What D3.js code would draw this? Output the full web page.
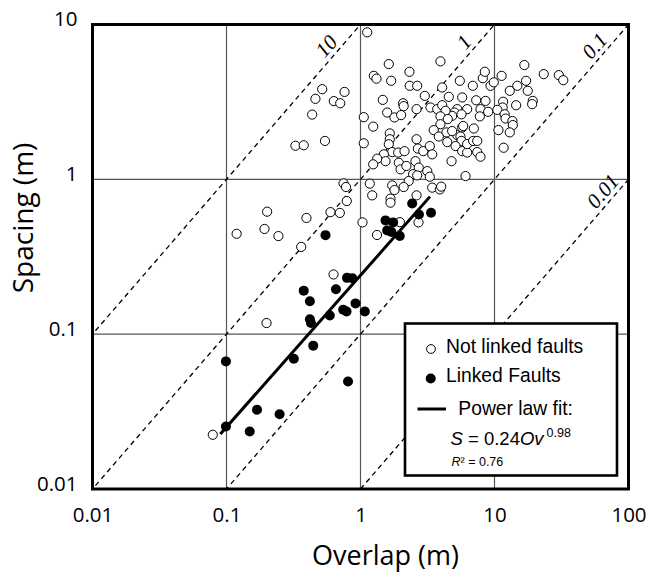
<!DOCTYPE html>
<html>
<head>
<meta charset="utf-8">
<script src="https://cdn.jsdelivr.net/npm/d3@7"></script>
<style>
  body { margin: 0; background: #fff; }
  svg { display: block; }
</style>
</head>
<body>
<svg id="chart" width="651" height="572"></svg>
<script>
// Fault pairs that are not linked: overlap (m) and spacing (m)
const notLinkedOverlap = [
  0.079, 0.199, 0.119, 0.201, 0.192, 0.244, 0.395, 0.361, 0.597, 0.701,
  0.747, 0.779, 0.790, 0.629, 1.035, 1.328, 1.965, 2.71, 0.327, 0.377,
  0.543, 0.436, 0.461, 0.518, 0.632, 0.706, 0.760, 1.058, 1.058, 1.122,
  1.626, 1.257, 1.316, 1.694, 2.32, 2.33, 2.65, 3.95, 3.02, 4.07,
  5.51, 6.89, 8.18, 8.47, 9.34, 9.88, 11.3, 16.7, 17.2, 14.8,
  13.0, 17.7, 19.3, 23.3, 30.2, 32.6, 14.5, 11.6, 11.5, 10.5,
  11.9, 12.1, 13.6, 13.7, 10.7, 13.0, 11.7, 6.08, 1.467, 1.244,
  1.582, 1.793, 2.01, 2.08, 2.10, 2.62, 3.33, 3.74, 4.07, 4.56,
  5.74, 7.30, 8.57, 7.86, 7.77, 8.97, 6.25, 5.27, 5.03, 4.83,
  4.31, 3.95, 4.48, 3.95, 3.52, 4.38, 5.27, 5.74, 7.01, 5.57,
  5.67, 3.84, 4.44, 5.12, 5.74, 6.25, 6.25, 6.93, 7.43, 7.43,
  7.86, 4.78, 1.654, 1.654, 1.626, 1.725, 1.493, 1.537, 1.332, 1.244,
  1.911, 2.13, 1.93, 1.99, 2.20, 2.62, 2.68, 2.94, 3.29, 3.43,
  2.57, 2.72, 2.47, 2.29, 2.65, 3.15, 3.29, 1.173, 1.223, 1.725,
  1.793, 2.10, 2.62, 3.43, 3.91, 4.00, 1.675, 1.675, 19.1, 5.84,
  4.83, 5.67
];
const notLinkedSpacing = [
  0.0224, 0.118, 0.445, 0.618, 0.478, 0.430, 0.563, 0.366, 0.614, 0.607,
  0.942, 0.892, 0.724, 0.243, 0.527, 0.437, 0.529, 0.527, 1.648, 1.660,
  1.770, 2.62, 3.31, 3.82, 3.20, 3.10, 3.67, 2.52, 1.710, 8.90,
  5.55, 4.66, 4.47, 4.33, 4.95, 4.02, 4.02, 5.78, 3.46, 3.92,
  4.33, 4.02, 4.50, 4.95, 4.02, 4.23, 4.66, 5.47, 4.33, 4.02,
  3.73, 3.73, 3.21, 4.78, 4.71, 4.37, 3.01, 3.17, 2.91, 2.81,
  2.63, 2.47, 2.38, 2.24, 2.08, 2.01, 1.60, 1.05, 3.26, 2.19,
  2.70, 2.51, 2.60, 3.10, 2.97, 2.84, 2.91, 2.84, 3.01, 3.41,
  3.38, 3.24, 3.21, 2.84, 2.55, 2.73, 2.84, 2.84, 2.70, 2.57,
  2.77, 2.55, 2.45, 2.27, 2.08, 2.01, 1.93, 2.16, 2.13, 1.89,
  1.77, 1.89, 1.74, 1.64, 1.52, 1.49, 1.69, 1.77, 1.77, 1.50,
  1.40, 1.31, 1.98, 1.815, 1.685, 1.50, 1.45, 1.31, 1.36, 1.25,
  1.49, 1.52, 1.28, 1.16, 1.22, 1.815, 1.58, 1.52, 1.64, 1.45,
  1.31, 1.19, 1.08, 0.975, 1.06, 1.13, 1.04, 0.938, 0.788, 0.914,
  0.853, 0.892, 0.788, 0.884, 0.861, 0.897, 0.750, 0.707, 3.06, 2.21,
  2.05, 2.63
];

// Linked fault pairs: overlap (m) and spacing (m)
const linkedOverlap = [
  0.099, 0.099, 0.149, 0.169, 0.249, 0.318, 0.377, 0.419, 0.419, 0.427,
  0.444, 0.548, 0.590, 0.656, 0.743, 0.787, 0.793, 0.867, 0.807, 0.918,
  1.077, 1.537, 1.754, 1.582, 1.703, 1.965, 2.43, 2.73, 3.36
];
const linkedSpacing = [
  0.0253, 0.0667, 0.0235, 0.0325, 0.0304, 0.0694, 0.191, 0.163, 0.125, 0.118,
  0.0843, 0.436, 0.132, 0.195, 0.144, 0.140, 0.231, 0.230, 0.0495, 0.158,
  0.140, 0.543, 0.527, 0.468, 0.457, 0.430, 0.699, 0.593, 0.609
];

// Axis ticks
const xTickValues = [0.01, 0.1, 1, 10, 100];
const xTickLabels = ["0.01", "0.1", "1", "10", "100"];
const yTickValues = [0.01, 0.1, 1, 10];
const yTickLabels = ["0.01", "0.1", "1", "10"];

// Constant spacing/overlap ratio guides
const ratioValues = [10, 1, 0.1, 0.01];
const ratioLabels = ["10", "1", "0.1", "0.01"];

// Power law fit S = a * Ov^b
const fitCoef = 0.24;
const fitExp = 0.98;
const fitR2 = 0.76;
const fitOverlapRange = [0.09, 3.3];

const legendLabels = ["Not linked faults", "Linked Faults", "Power law fit:"];

// ---------------------------------------------------------------
const svg = d3.select("#chart");
const L = 92.5, R = 628.5, T = 24.5, B = 489;
const x = d3.scaleLog().domain([0.01, 100]).range([L, R]);
const y = d3.scaleLog().domain([0.01, 10]).range([B, T]);

const tickFont = "'Open Sans', sans-serif";
const legendFont = "'Liberation Sans', Arial, sans-serif";

svg.append("defs").append("clipPath").attr("id", "plotClip")
  .append("rect").attr("x", L).attr("y", T).attr("width", R - L).attr("height", B - T);

// decade grid
const grid = svg.append("g");
grid.selectAll("line.gx").data(xTickValues.slice(1, -1)).join("line")
  .attr("x1", d => x(d)).attr("x2", d => x(d)).attr("y1", T).attr("y2", B)
  .attr("stroke", "#555").attr("stroke-width", 1.2);
grid.selectAll("line.gy").data(yTickValues.slice(1, -1)).join("line")
  .attr("y1", d => y(d)).attr("y2", d => y(d)).attr("x1", L).attr("x2", R)
  .attr("stroke", "#555").attr("stroke-width", 1.2);

// ratio guide lines S = r * Ov
const guides = svg.append("g").attr("clip-path", "url(#plotClip)");
const ovExtent = [1e-4, 1e3];
guides.selectAll("line").data(ratioValues).join("line")
  .attr("x1", x(ovExtent[0])).attr("y1", d => y(d * ovExtent[0]))
  .attr("x2", x(ovExtent[1])).attr("y2", d => y(d * ovExtent[1]))
  .attr("stroke", "#000").attr("stroke-width", 1.3)
  .attr("stroke-dasharray", "5,4");

// guide labels, rotated along the lines
const dxDec = x(10) - x(1), dyDec = y(10) - y(1);
const ang = Math.atan2(dyDec, dxDec);
const nx = Math.sin(ang), ny = -Math.cos(ang);
const labelAnchorOv = [0.648, 6.9, 65, 74.8];
svg.append("g").selectAll("text").data(ratioValues).join("text")
  .attr("transform", (d, i) => {
    const px = x(labelAnchorOv[i]) + 12 * nx;
    const py = y(d * labelAnchorOv[i]) + 12 * ny;
    return `translate(${px},${py}) rotate(${ang * 180 / Math.PI})`;
  })
  .attr("text-anchor", "middle").attr("dy", "0.35em")
  .attr("font-family", "'Liberation Serif', 'Times New Roman', serif")
  .attr("font-style", "italic").attr("font-size", 21)
  .text((d, i) => ratioLabels[i]);

// power law fit line
const fitPts = fitOverlapRange.map(ov => [ov, fitCoef * Math.pow(ov, fitExp)]);
svg.append("path")
  .attr("d", d3.line().x(d => x(d[0])).y(d => y(d[1]))(fitPts))
  .attr("stroke", "#000").attr("stroke-width", 3).attr("fill", "none");

// scatter points
const openPts = notLinkedOverlap.map((v, i) => [v, notLinkedSpacing[i]]);
const filledPts = linkedOverlap.map((v, i) => [v, linkedSpacing[i]]);
svg.append("g").selectAll("circle").data(openPts).join("circle")
  .attr("cx", d => x(d[0])).attr("cy", d => y(d[1])).attr("r", 4.6)
  .attr("fill", "#fff").attr("stroke", "#000").attr("stroke-width", 1);
svg.append("g").selectAll("circle").data(filledPts).join("circle")
  .attr("cx", d => x(d[0])).attr("cy", d => y(d[1])).attr("r", 5)
  .attr("fill", "#000");

// frame
svg.append("rect").attr("x", L).attr("y", T).attr("width", R - L).attr("height", B - T)
  .attr("fill", "none").attr("stroke", "#000").attr("stroke-width", 3);

// axes
const xAxis = svg.append("g").attr("transform", `translate(0,${B})`)
  .call(d3.axisBottom(x).tickValues(xTickValues)
    .tickFormat((d, i) => xTickLabels[i]).tickSize(0).tickPadding(18));
const yAxis = svg.append("g").attr("transform", `translate(${L},0)`)
  .call(d3.axisLeft(y).tickValues(yTickValues)
    .tickFormat((d, i) => yTickLabels[i]).tickSize(0).tickPadding(15));
[xAxis, yAxis].forEach(a => {
  a.select(".domain").remove();
  a.selectAll("text").attr("font-family", tickFont).attr("font-size", 20.5).attr("fill", "#000");
});
yAxis.selectAll("text").attr("dy", "0.05em");

// axis titles
svg.append("text").attr("x", 312).attr("y", 565)
  .attr("text-anchor", "start").attr("font-family", tickFont).attr("font-size", 27)
  .text("Overlap (m)");
svg.append("text").attr("transform", "translate(33,218) rotate(-90)")
  .attr("text-anchor", "middle").attr("font-family", tickFont).attr("font-size", 28)
  .text("Spacing (m)");

// legend
const lg = svg.append("g");
lg.append("rect").attr("x", 405).attr("y", 323.5).attr("width", 212).attr("height", 152)
  .attr("fill", "#fff").attr("stroke", "#000").attr("stroke-width", 2.6);
lg.append("circle").attr("cx", 431).attr("cy", 349).attr("r", 4.4)
  .attr("fill", "#fff").attr("stroke", "#000").attr("stroke-width", 1);
lg.append("circle").attr("cx", 430.7).attr("cy", 378.5).attr("r", 5).attr("fill", "#000");
lg.append("line").attr("x1", 417.5).attr("x2", 446).attr("y1", 409).attr("y2", 409)
  .attr("stroke", "#000").attr("stroke-width", 3);
const legendPos = [[446, 353.3], [446, 382.3], [458.3, 414.7]];
lg.selectAll("text.item").data(legendLabels).join("text")
  .attr("x", (d, i) => legendPos[i][0]).attr("y", (d, i) => legendPos[i][1])
  .attr("font-family", legendFont).attr("font-size", 19.3).text(d => d);

const eq = lg.append("text").attr("x", 450.5).attr("y", 445)
  .attr("font-family", legendFont).attr("font-size", 18.5);
eq.append("tspan").attr("font-style", "italic").text("S");
eq.append("tspan").text(` = ${fitCoef.toFixed(2)}`);
eq.append("tspan").attr("font-style", "italic").text("Ov");
eq.append("tspan").attr("font-size", 12.5).attr("dx", 3).attr("dy", -8).text(fitExp.toFixed(2));

const r2 = lg.append("text").attr("x", 451.5).attr("y", 466)
  .attr("font-family", legendFont).attr("font-size", 12.5);
r2.append("tspan").attr("font-style", "italic").text("R");
r2.append("tspan").text(`² = ${fitR2.toFixed(2)}`);
</script>
</body>
</html>
